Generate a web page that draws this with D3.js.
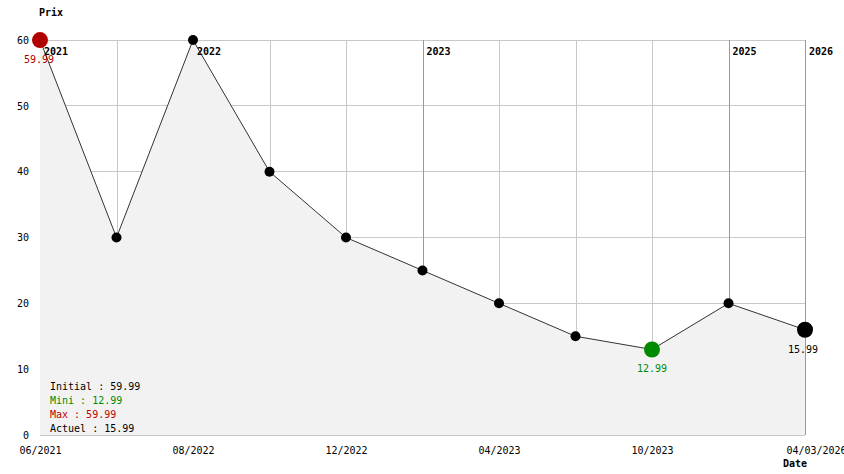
<!DOCTYPE html>
<html>
<head>
<meta charset="utf-8">
<script src="https://cdn.jsdelivr.net/npm/d3@7"></script>
<style>
  html, body { margin: 0; padding: 0; background: #fff; }
  svg { display: block; }
  text { font-family: "DejaVu Sans Mono", "Liberation Mono", monospace; font-size: 10px; }
</style>
</head>
<body>
<svg id="chart" width="844" height="474"></svg>
<script>
// ---- data ----
const dateLabels = ["06/2021", "", "08/2022", "", "12/2022", "", "04/2023", "", "10/2023", "", "04/03/2026"];
const prices = [59.99, 30, 59.99, 40, 30, 25, 20, 15, 12.99, 20, 15.99];
const yearIndex = [0, 2, 5, 9, 10];
const yearLabels = ["2021", "2022", "2023", "2025", "2026"];
const yTicks = [0, 10, 20, 30, 40, 50, 60];
const legendLabels = ["Initial : 59.99", "Mini : 12.99", "Max : 59.99", "Actuel : 15.99"];
const legendColors = ["#000", "#008a00", "#c00000", "#000"];

// ---- layout ----
const W = 844, H = 474;
const m = { left: 40, right: 39, top: 40, bottom: 39 };
const svg = d3.select("#chart");
const idx = d3.range(prices.length);
const x = d3.scaleLinear().domain([0, prices.length - 1]).range([m.left, W - m.right]);
const y = d3.scaleLinear().domain([0, 60]).range([H - m.bottom, m.top]);

// grid
const grid = svg.append("g");
grid.selectAll("line.h").data(yTicks).join("line")
  .attr("x1", m.left).attr("x2", W - m.right)
  .attr("y1", d => y(d)).attr("y2", d => y(d))
  .attr("stroke", "#c8c8c8").attr("shape-rendering", "crispEdges");
grid.selectAll("line.v").data(idx).join("line")
  .attr("x1", d => Math.round(x(d)) + 0.5).attr("x2", d => Math.round(x(d)) + 0.5)
  .attr("y1", m.top).attr("y2", H - m.bottom)
  .attr("stroke", d => yearIndex.includes(d) ? "#999" : "#c8c8c8");

// area
const area = d3.area().x((d, i) => x(i)).y0(y(0)).y1(d => y(d));
svg.append("path").datum(prices).attr("d", area).attr("fill", "#f2f2f2");

// line
const line = d3.line().x((d, i) => x(i)).y(d => y(d));
svg.append("path").datum(prices).attr("d", line)
  .attr("fill", "none").attr("stroke", "#333").attr("stroke-width", 1);

// year labels
svg.append("g").selectAll("text").data(yearIndex).join("text")
  .attr("x", d => x(d) + 4).attr("y", 55)
  .attr("font-weight", "bold")
  .text((d, i) => yearLabels[i]);

// points
const maxI = 0, minI = prices.indexOf(d3.min(prices)), lastI = prices.length - 1;
const ptColor = i => i === maxI ? "#b00000" : i === minI ? "#008a00" : "#000";
const ptR = i => (i === maxI || i === minI || i === lastI) ? 8 : 5;
svg.append("g").selectAll("circle").data(idx).join("circle")
  .attr("cx", i => x(i)).attr("cy", i => y(prices[i]))
  .attr("r", ptR).attr("fill", ptColor);

// value labels
const valLabels = [
  { i: maxI, color: "#b00000", dx: -1 },
  { i: minI, color: "#008a00", dx: 0 },
  { i: lastI, color: "#000", dx: -2 }
];
svg.append("g").selectAll("text").data(valLabels).join("text")
  .attr("x", d => x(d.i) + d.dx).attr("y", d => y(prices[d.i]) + 23)
  .attr("text-anchor", "middle").attr("fill", d => d.color)
  .text(d => prices[d.i].toFixed(2));

// y axis
const yAxis = svg.append("g").attr("transform", `translate(${m.left - 11},0)`)
  .call(d3.axisLeft(y).tickValues(yTicks).tickSize(0).tickPadding(0).tickFormat(d3.format("d")));
yAxis.select(".domain").remove();
yAxis.selectAll("text").style("font-family", "DejaVu Sans Mono, monospace").style("font-size", "10px");

// x axis
const xAxis = svg.append("g").attr("transform", `translate(0,${H - m.bottom + 12})`)
  .call(d3.axisBottom(x).tickValues(idx.filter(i => dateLabels[i])).tickSize(0).tickPadding(0)
    .tickFormat(i => dateLabels[i]));
xAxis.select(".domain").remove();
xAxis.selectAll("text").style("font-family", "DejaVu Sans Mono, monospace").style("font-size", "10px");
xAxis.selectAll(".tick").filter(i => i === lastI).select("text").attr("dx", 11);

// axis titles
svg.append("text").attr("x", 39).attr("y", 16).attr("font-weight", "bold").text("Prix");
svg.append("text").attr("x", 783).attr("y", 467).attr("font-weight", "bold").text("Date");

// legend
svg.append("g").selectAll("text").data(legendLabels).join("text")
  .attr("x", 50).attr("y", (d, i) => 390 + i * 14)
  .attr("fill", (d, i) => legendColors[i])
  .text(d => d);
</script>
</body>
</html>
